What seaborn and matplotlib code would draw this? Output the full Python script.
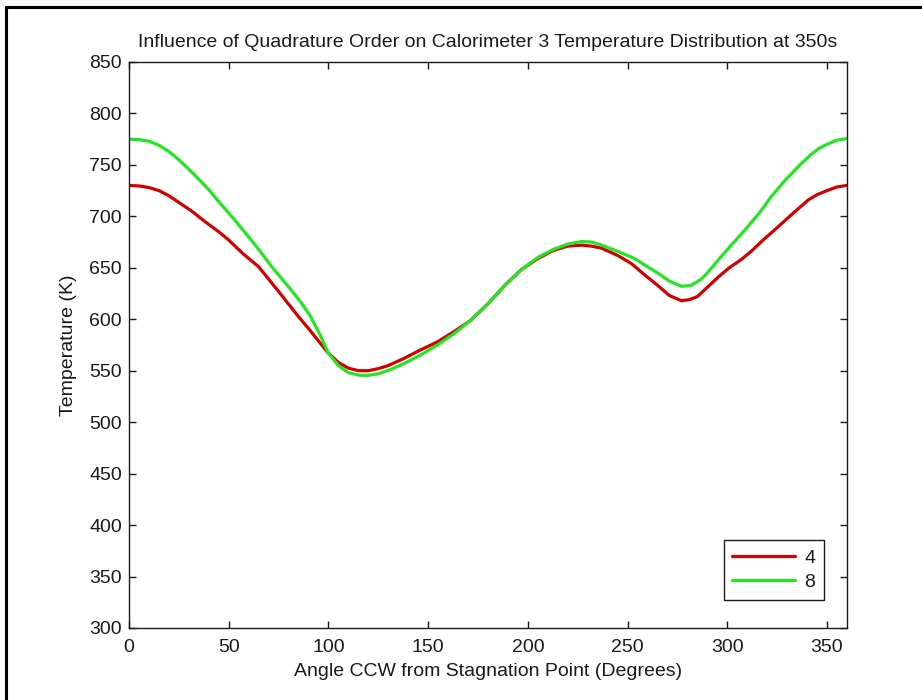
import matplotlib
matplotlib.use("Agg")
import matplotlib.pyplot as plt
from matplotlib.lines import Line2D
import pandas as pd
import seaborn as sns

# Temperature around calorimeter 3 at t = 350 s, for two quadrature orders
angle_q4 = [0, 5, 10, 15, 20, 25, 31.5, 38, 45, 50, 57, 65, 75, 85, 90, 95, 100,
            105, 110, 115, 120, 125, 130, 138, 146, 154.7, 163, 171.4, 180, 188,
            196.6, 205, 213, 220, 227, 232, 237, 245, 252, 258, 265, 271, 277,
            281, 285, 290, 295.5, 301, 307, 312, 318, 325.6, 333, 340.7, 345,
            350, 355, 360]
temp_q4 = [730, 729.5, 728, 725, 720, 713.5, 705, 695, 685, 677, 664, 651, 627,
           602.5, 591, 579, 567, 558, 552.5, 550, 550, 552, 555, 562, 570, 578,
           588, 599, 615, 632, 648, 659, 667, 671, 672, 671, 669, 662, 654, 644,
           633, 623, 618, 619, 622, 631, 641, 650, 658, 666, 677, 690, 703, 716,
           721, 725, 728.5, 730]

angle_q8 = [0, 5, 10, 15, 20, 25, 31.5, 40, 46, 53, 60, 65, 72, 80, 86, 91, 96,
            100, 105, 110, 116, 120, 125, 131, 138, 146, 154.7, 163, 171.4, 180,
            188, 196.6, 205, 213, 220, 227, 232, 237, 245, 253.5, 260, 265, 271,
            277, 282, 287, 290, 295.5, 302, 309, 316, 322, 329, 337, 342, 346,
            350, 355, 360]
temp_q8 = [775, 774.5, 773, 769, 763, 755, 743, 726, 712, 696.5, 680, 668, 650,
           631.6, 617, 603, 584, 567, 555, 548, 545.5, 545.5, 547, 551, 557, 565,
           575, 586, 599, 615, 632, 648, 660, 668, 673, 675.5, 675, 672, 666,
           659, 651, 645, 637, 632, 633, 639, 645, 657.6, 672, 687, 703, 719,
           735, 751, 760, 766, 770, 774, 775.5]

orders = ["4", "8"]
line_colors = ["#d40000", "#22e622"]

x_ticks = list(range(0, 351, 50))
y_ticks = list(range(300, 851, 50))

df = pd.concat([
    pd.DataFrame({"Angle": angle_q4, "Temperature": temp_q4, "Order": orders[0]}),
    pd.DataFrame({"Angle": angle_q8, "Temperature": temp_q8, "Order": orders[1]}),
], ignore_index=True)

sns.set_theme(style="white")
plt.rcParams["font.family"] = ["Liberation Sans", "DejaVu Sans"]
plt.rcParams["text.color"] = "#1a1a1a"
plt.rcParams["axes.labelcolor"] = "#1a1a1a"
plt.rcParams["xtick.color"] = "#1a1a1a"
plt.rcParams["ytick.color"] = "#1a1a1a"

fig = plt.figure(figsize=(9.22, 7.0), dpi=100)
ax = fig.add_axes([0.1399, 0.1029, 0.7787, 0.8086])

sns.lineplot(data=df, x="Angle", y="Temperature", hue="Order",
             palette=dict(zip(orders, line_colors)), linewidth=2.3,
             ax=ax, legend=True)
for ln in ax.get_lines():
    ln.set_solid_joinstyle("round")

ax.set_xlim(0, 360)
ax.set_ylim(300, 850)
ax.set_xticks(x_ticks)
ax.set_yticks(y_ticks)
ax.tick_params(axis="both", which="both", direction="in", length=5, width=1,
               labelsize=14, top=True, right=True, bottom=True, left=True)
ax.tick_params(axis="x", pad=8)
ax.tick_params(axis="y", pad=5)
for sp in ax.spines.values():
    sp.set_visible(True)
    sp.set_color("#1a1a1a")
    sp.set_linewidth(1.0)

ax.set_xlabel("Angle CCW from Stagnation Point (Degrees)", fontsize=14, labelpad=5)
ax.set_ylabel("Temperature (K)", fontsize=14, labelpad=9)
ax.set_title("Influence of Quadrature Order on Calorimeter 3 Temperature Distribution at 350s",
             fontsize=14, pad=11)

handles, labels = ax.get_legend_handles_labels()
leg = ax.legend(handles, labels, loc="lower right", bbox_to_anchor=(0.968, 0.0495),
                borderaxespad=0, fontsize=14, frameon=True, fancybox=False,
                handlelength=3.2, handletextpad=0.5, labelspacing=0.35,
                borderpad=0.45, title=None)
leg.get_frame().set_edgecolor("#1a1a1a")
leg.get_frame().set_linewidth(1.0)
leg.get_frame().set_alpha(1)

# Outer frame along the top and left edge of the figure
fig.add_artist(Line2D([0.0065, 0.0065], [0.0, 0.9905], transform=fig.transFigure,
                      color="black", linewidth=2.2))
fig.add_artist(Line2D([0.0065, 1.0], [0.9905, 0.9905], transform=fig.transFigure,
                      color="black", linewidth=2.2))

fig.savefig("out.png", dpi=100)
